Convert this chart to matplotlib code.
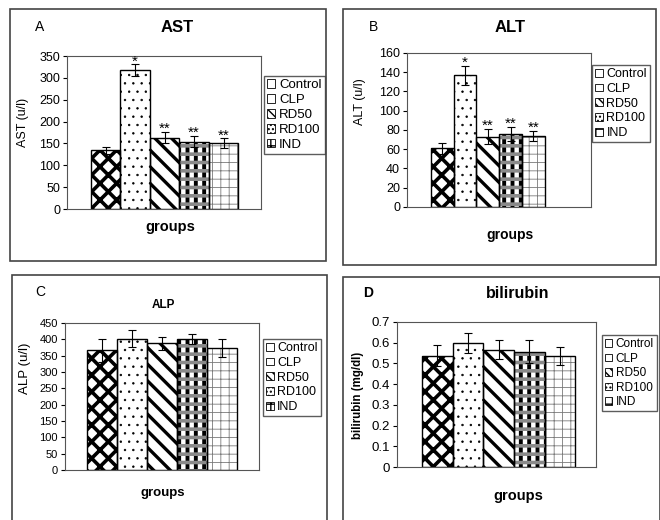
import numpy as np
import matplotlib
matplotlib.use('Agg')
import matplotlib.pyplot as plt
from matplotlib.patches import Rectangle, Patch
from matplotlib.ticker import FuncFormatter

plt.rcParams['font.family'] = ['Liberation Sans', 'DejaVu Sans']

# data
groups = ['Control', 'CLP', 'RD50', 'RD100', 'IND']
ast = [134, 318, 163, 154, 151]
ast_err = [8, 13, 13, 13, 11]
ast_sig = ['', '*', '**', '**', '**']
alt = [61, 137, 73, 76, 74]
alt_err = [6, 10, 8, 7, 5]
alt_sig = ['', '*', '**', '**', '**']
alp = [366, 402, 388, 401, 374]
alp_err = [35, 26, 20, 16, 28]
alp_sig = ['', '', '', '', '']
bil = [0.538, 0.600, 0.567, 0.556, 0.536]
bil_err = [0.050, 0.048, 0.045, 0.055, 0.042]
bil_sig = ['', '', '', '', '']

W, H = 660, 520
fig = plt.figure(figsize=(W / 100, H / 100), dpi=100)


def fx(px):
    return px / W


def fy(py):
    return 1 - py / H


# hatch layers per group: (hatch, colour, hatch linewidth)
layers = [
    [('xx', 'black', 2.6)],
    [('..', 'black', 0.5)],
    [('\\\\', 'black', 2.4)],
    [('||', 'black', 2.8), ('--', '#8a8a8a', 2.6)],
    [('++', '#7a7a7a', 0.6)],
]
leg_hatch = [None, None, '\\\\\\\\', '....', '++']


def set_hlw(p, lw):
    if hasattr(p, 'set_hatch_linewidth'):
        p.set_hatch_linewidth(lw)


def panel(box, vals, errs, sigs, ymax, ystep, xlim, fs=9):
    x0, y0, x1, y1 = box
    ax = fig.add_axes([fx(x0), fy(y1), fx(x1) - fx(x0), (y1 - y0) / H])
    x = np.arange(len(vals))
    ax.bar(x, vals, 1.0, color='white', lw=0)
    for i in range(len(vals)):
        for h, c, lw in layers[i]:
            with plt.rc_context({'hatch.linewidth': lw, 'hatch.color': c}):
                b = ax.bar(x[i], vals[i], 1.0, fill=False, hatch=h,
                           edgecolor=c, lw=0)
            for p in b:
                set_hlw(p, lw)
    ax.bar(x, vals, 1.0, fill=False, edgecolor='black', lw=1.0)
    ax.errorbar(x, vals, yerr=errs, fmt='none', ecolor='black',
                elinewidth=0.8, capsize=3, capthick=0.8)
    for i, s in enumerate(sigs):
        if s:
            ax.annotate(s, (x[i], vals[i] + errs[i]), xytext=(0, -3),
                        textcoords='offset points', ha='center', va='bottom',
                        fontsize=11)
    ax.set_xlim(*xlim)
    ax.set_ylim(0, ymax)
    ax.set_yticks(np.arange(0, ymax + ystep / 2, ystep))
    ax.yaxis.set_major_formatter(FuncFormatter(lambda v, p: '%g' % round(v, 2)))
    ax.set_xticks([])
    ax.tick_params(axis='y', length=3, width=0.8, labelsize=fs, pad=2)
    for sp in ax.spines.values():
        sp.set_color('#555555')
        sp.set_linewidth(0.8)
    return ax


def legend(x, y, fs=9):
    handles = [Patch(facecolor='white', edgecolor='black', lw=0.6, hatch=h)
               for h in leg_hatch]
    fig.legend(handles, groups, loc='upper left',
               bbox_to_anchor=(fx(x), fy(y)), frameon=True, fancybox=False,
               edgecolor='#333333', fontsize=fs, handlelength=0.6,
               handleheight=0.6, handletextpad=0.3, labelspacing=0.22,
               borderpad=0.25, borderaxespad=0)


def frame(x0, y0, x1, y1):
    fig.add_artist(Rectangle((fx(x0), fy(y1)), (x1 - x0) / W, (y1 - y0) / H,
                             transform=fig.transFigure, fill=False,
                             edgecolor='#444444', lw=1.2))


frame(10, 9, 326, 261)
frame(343, 9, 656, 265)
frame(12, 275, 327, 530)
frame(343, 277, 660, 530)

# A
panel((67, 56, 261, 209), ast, ast_err, ast_sig, 350, 50, (-1.31, 5.27))
legend(264, 76, 9.5)
fig.text(fx(35), fy(27), 'A', fontsize=10, va='center')
fig.text(fx(177), fy(27), 'AST', fontsize=12, fontweight='bold', ha='center', va='center')
fig.text(fx(23), fy(122), 'AST (u/l)', fontsize=9, rotation=90, ha='center', va='center')
fig.text(fx(170), fy(227), 'groups', fontsize=10.5, fontweight='bold', ha='center', va='center')

# B
panel((407, 53, 591, 207), alt, alt_err, alt_sig, 160, 20, (-1.54, 6.52))
legend(592, 65, 9)
fig.text(fx(369), fy(27), 'B', fontsize=10, va='center')
fig.text(fx(510), fy(27), 'ALT', fontsize=12, fontweight='bold', ha='center', va='center')
fig.text(fx(360), fy(102), 'ALT (u/l)', fontsize=9, rotation=90, ha='center', va='center')
fig.text(fx(510), fy(235), 'groups', fontsize=10, fontweight='bold', ha='center', va='center')

# C
panel((65, 323, 259, 470), alp, alp_err, alp_sig, 450, 50, (-1.24, 5.22), fs=8)
legend(263, 339, 9)
fig.text(fx(35), fy(292), 'C', fontsize=10, va='center')
fig.text(fx(163), fy(305), 'ALP', fontsize=8.5, fontweight='bold', ha='center', va='center')
fig.text(fx(25), fy(368), 'ALP (u/l)', fontsize=9.5, rotation=90, ha='center', va='center')
fig.text(fx(163), fy(493), 'groups', fontsize=9.5, fontweight='bold', ha='center', va='center')

# D
panel((397, 322, 596, 467), bil, bil_err, bil_sig, 0.7, 0.1, (-1.32, 5.17), fs=9.5)
legend(602, 335, 8.5)
fig.text(fx(363), fy(293), 'D', fontsize=10, fontweight='bold', va='center')
fig.text(fx(518), fy(293), 'bilirubin', fontsize=11.5, fontweight='bold', ha='center', va='center')
fig.text(fx(358), fy(395), 'bilirubin (mg/dl)', fontsize=8.3, fontweight='bold', rotation=90, ha='center', va='center')
fig.text(fx(518), fy(496), 'groups', fontsize=10.5, fontweight='bold', ha='center', va='center')

fig.savefig('out.png', dpi=100)
